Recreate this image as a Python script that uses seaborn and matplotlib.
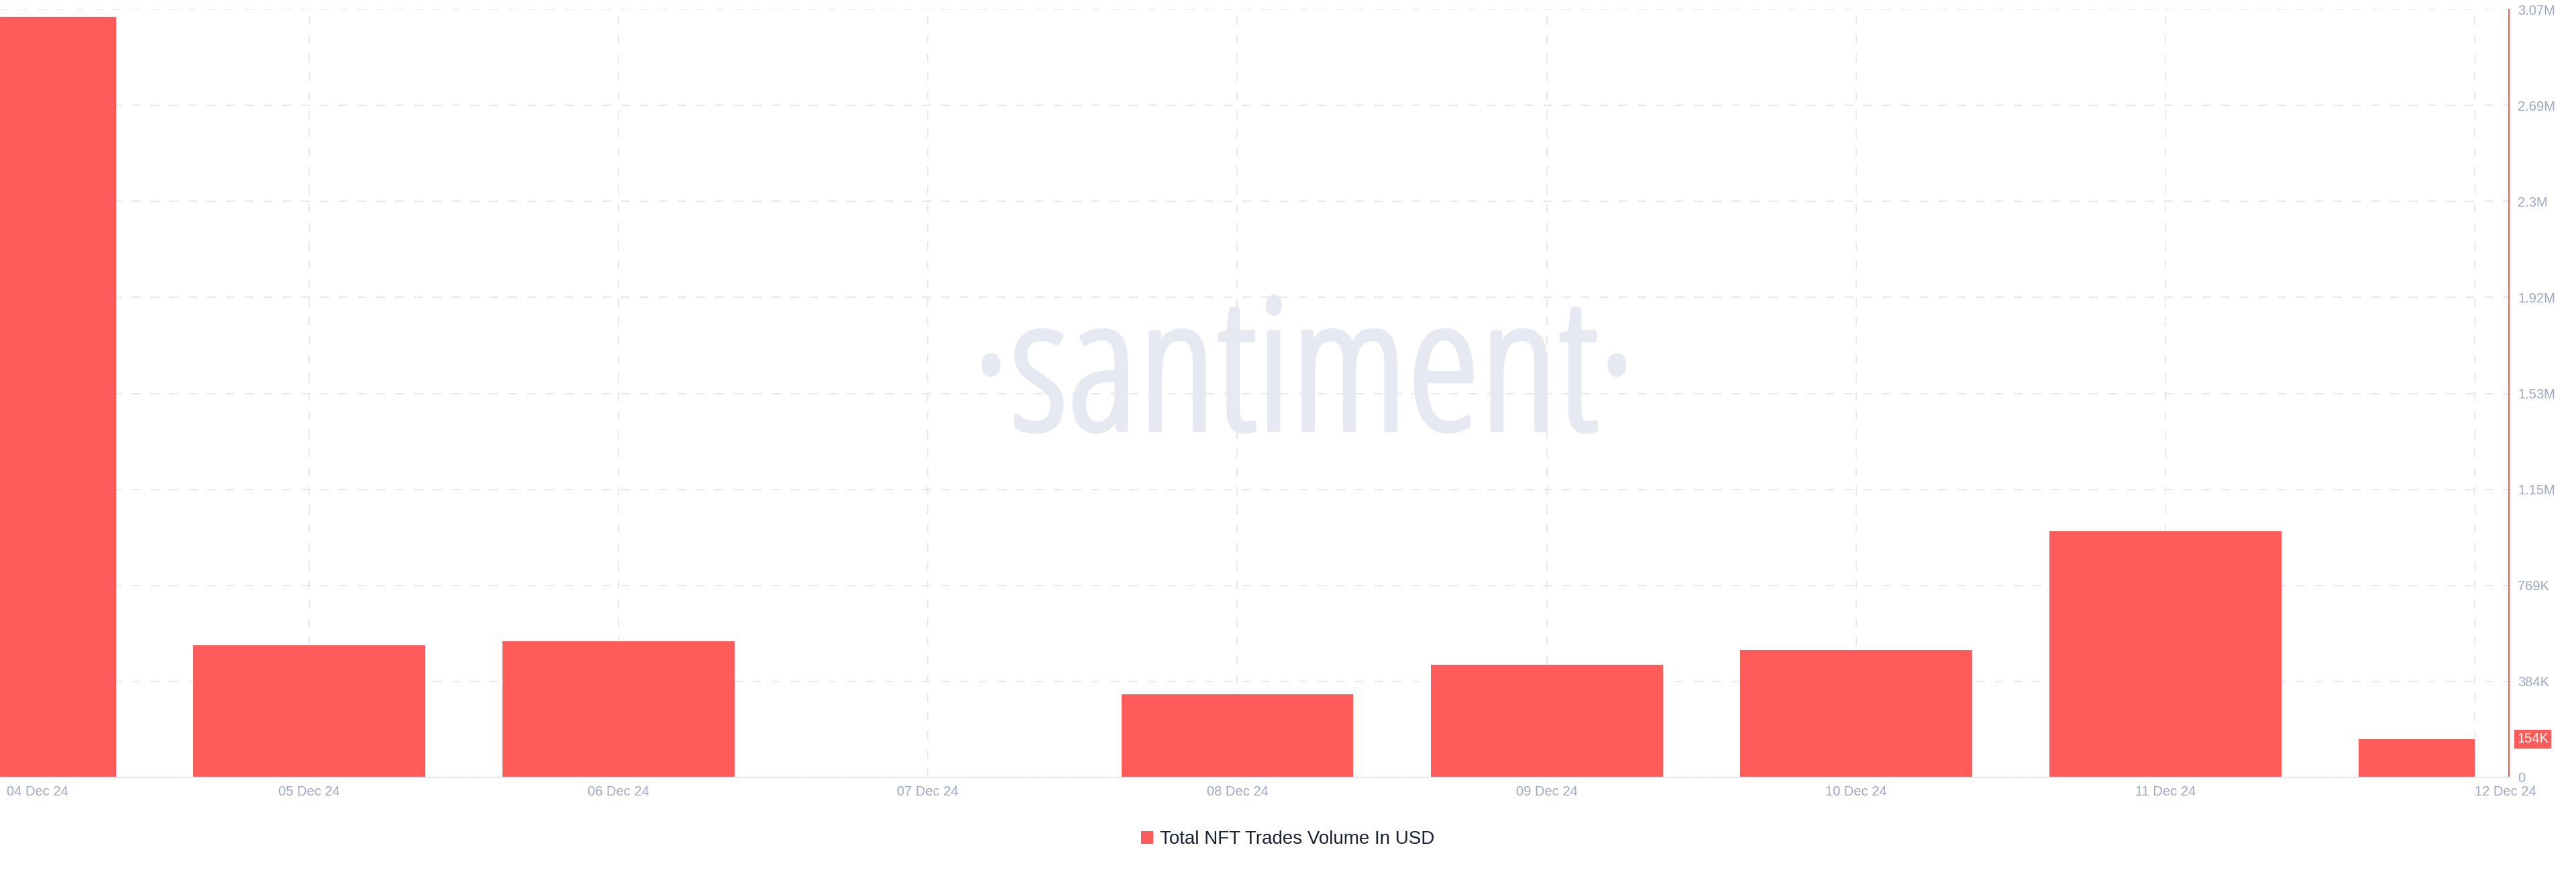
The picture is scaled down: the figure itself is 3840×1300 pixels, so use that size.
import matplotlib
matplotlib.use("Agg")
import matplotlib.pyplot as plt
import matplotlib.transforms as mtrans
import matplotlib.patheffects as pe
from matplotlib.patches import Patch
from matplotlib import font_manager
from matplotlib.font_manager import FontProperties
import seaborn as sns
import pandas as pd

# ---------------- data ----------------
dates = ["04 Dec 24", "05 Dec 24", "06 Dec 24", "07 Dec 24", "08 Dec 24",
         "09 Dec 24", "10 Dec 24", "11 Dec 24", "12 Dec 24"]
volume_usd = [3045000, 528000, 544000, 0, 332000, 451000, 509000, 986000, 154000]
y_ticks = [0, 384375, 768750, 1153125, 1537500, 1921875, 2306250, 2690625, 3075000]
y_labels = ["0", "384K", "769K", "1.15M", "1.53M", "1.92M", "2.3M", "2.69M", "3.07M"]
series_name = "Total NFT Trades Volume In USD"

BAR = "#ff5b5b"
LABEL = "#9fa8c3"
GRID = "#e6e9f2"
WM = "#e6e8f2"

sns.set_theme(style="white")
plt.rcParams["font.family"] = ["Liberation Sans", "DejaVu Sans"]
plt.rcParams["lines.scale_dashes"] = False

# pick a condensed font for the watermark if one is installed
pref = ["Open Sans", "Roboto", "Liberation Sans", "DejaVu Sans", "Noto Sans"]
stretch_rank = {"semi-condensed": 0, "condensed": 1, "extra-condensed": 2}
cands = []
for f in font_manager.fontManager.ttflist:
    st = str(f.stretch)
    if (st in stretch_rank or "Narrow" in f.name or "Condensed" in f.name) and f.style == "normal":
        rank = next((i for i, p in enumerate(pref) if f.name.startswith(p)), 99)
        w = f.weight if isinstance(f.weight, int) else 400
        cands.append((rank, abs(w - 420), stretch_rank.get(st, 1), f.fname))
if cands:
    cands.sort()
    wm_prop = FontProperties(fname=cands[0][3])
else:
    wm_prop = FontProperties(family="Open Sans")

df = pd.DataFrame({"date": dates, "volume": volume_usd})

W, H = 3840, 1300
fig = plt.figure(figsize=(W / 100, H / 100), dpi=100)
ax = fig.add_axes([0, (H - 1159) / H, 3740 / W, 1145 / H])

sns.barplot(data=df, x="date", y="volume", color=BAR, saturation=1, width=0.75,
            errorbar=None, linewidth=0, ax=ax, zorder=2)

# last bar shown only up to its date (left half), as in the reference
last = ax.patches[-1]
last.set_width(last.get_width() / 2)

ax.set_xlim(0, 8 + 51 / 461.1)
ax.set_ylim(0, y_ticks[-1])
ax.set_xlabel("")
ax.set_ylabel("")

ax.set_xticks(range(len(dates)))
ax.set_xticklabels(dates)
ax.yaxis.tick_right()
ax.set_yticks(y_ticks)
ax.set_yticklabels(y_labels)
ax.tick_params(axis="both", length=0, labelsize=14.5, labelcolor=LABEL)
ax.tick_params(axis="x", pad=8.5)
ax.tick_params(axis="y", pad=9.4)

xl = ax.get_xticklabels()
xl[0].set_ha("left")
xl[0].set_transform(xl[0].get_transform() + mtrans.ScaledTranslation(0.10, 0, fig.dpi_scale_trans))
xl[-1].set_ha("left")

ax.grid(True, color=GRID, linewidth=1.5, linestyle=(0, (9.4, 10.8)))
ax.set_axisbelow(True)

for s in ["top", "left"]:
    ax.spines[s].set_visible(False)
ax.spines["bottom"].set_color("#e3e7f1")
ax.spines["bottom"].set_linewidth(1.44)
ax.spines["right"].set_color(BAR)
ax.spines["right"].set_linewidth(1.44)

# latest value badge
ax.annotate(f"{round(volume_usd[-1] / 1000)}K", xy=(1, volume_usd[-1]),
            xycoords=("axes fraction", "data"), xytext=(12, 0), textcoords="offset pixels",
            ha="left", va="center", color="white", fontsize=14.5,
            bbox=dict(boxstyle="square,pad=0.22", fc=BAR, ec="none"), annotation_clip=False)

# watermark, sized to span the same width as the reference
wm_size = 184
wm = ax.text(1944 / W, 1 - 636 / H, "·santiment·", transform=fig.transFigure, ha="center",
             va="baseline", fontproperties=wm_prop, fontsize=wm_size, color=WM, zorder=0)
fig.canvas.draw()
ext = wm.get_window_extent(renderer=fig.canvas.get_renderer())
new_size = wm_size * 990 / ext.width
wm.set_fontsize(new_size)
wm.set_path_effects([pe.Stroke(linewidth=5, foreground=WM), pe.Normal()])
xh_px = 0.53 * new_size * 100 / 72
wm.set_position((1944 / W, 1 - (568 + xh_px / 2) / H))

fig.legend(handles=[Patch(facecolor=BAR, edgecolor="none")], labels=[series_name],
           loc="center", bbox_to_anchor=(0.5, 1 - 1251 / H), frameon=False, fontsize=20,
           handlelength=0.65, handleheight=0.65, handletextpad=0.35, labelcolor="#1b2033")

fig.savefig("out.png", dpi=100, facecolor="white")
